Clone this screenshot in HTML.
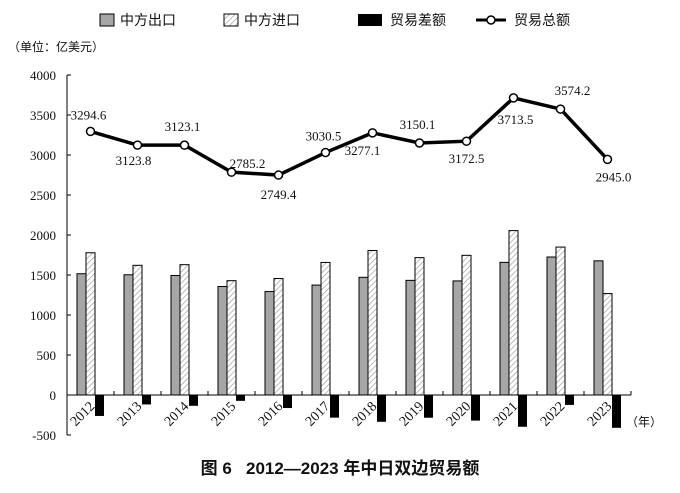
<!DOCTYPE html>
<html><head><meta charset="utf-8"><style>
body{margin:0;background:#fff;width:680px;height:488px;overflow:hidden}
svg text{font-family:"Liberation Serif","Noto Serif CJK SC",serif;fill:#111}
.cn{font-family:"Liberation Sans","Noto Sans CJK SC",sans-serif}
</style></head><body>
<svg id="c" width="680" height="488">
<defs><pattern id="hatch" width="4" height="4" patternUnits="userSpaceOnUse" patternTransform="rotate(45)"><rect width="4" height="4" fill="#fff"/><line x1="0" y1="0" x2="0" y2="4" stroke="#999" stroke-width="1.3"/></pattern></defs>
<g>
<rect x="100" y="14" width="14" height="12" fill="#a6a6a6" stroke="#000"/>
<text class="cn" x="120" y="25" font-size="14">中方出口</text>
<rect x="224" y="14" width="14" height="12" fill="url(#hatch)" stroke="#000"/>
<text class="cn" x="244" y="25" font-size="14">中方进口</text>
<rect x="358" y="14" width="24" height="12" fill="#000"/>
<text class="cn" x="390" y="25" font-size="14">贸易差额</text>
<line x1="476" y1="20" x2="506" y2="20" stroke="#000" stroke-width="3"/>
<circle cx="491" cy="20" r="4" fill="#fff" stroke="#000" stroke-width="1.5"/>
<text class="cn" x="514" y="25" font-size="14">贸易总额</text>
</g>
<text class="cn" x="8" y="51" font-size="12">（单位：亿美元）</text>
<text class="cn" x="340" y="474" font-size="17" font-weight="bold" text-anchor="middle" style="white-space:pre">图 6   2012—2023 年中日双边贸易额</text>
<text class="cn" x="626" y="426" font-size="12">（年）</text>
</svg>
<script>
const years=["2012","2013","2014","2015","2016","2017","2018","2019","2020","2021","2022","2023"];
const exports_=[1516,1503,1494,1356,1293,1374,1471,1433,1426,1658,1725,1677];
const imports_=[1778,1621,1629,1429,1456,1657,1806,1717,1746,2055,1849,1268];
const balance=[-262,-118,-135,-73,-163,-283,-335,-284,-320,-397,-124,-410];
const total=[3294.6,3123.8,3123.1,2785.2,2749.4,3030.5,3277.1,3150.1,3172.5,3713.5,3574.2,2945.0];
const yTicks=[-500,0,500,1000,1500,2000,2500,3000,3500,4000];
const labelDx=[-2,-4,-2,16,0,-2,-10,-2,0,2,12,6];
const labelDy=[-12,20,-14,-4,24,-12,22,-14,22,26,-14,22];
const svg=document.getElementById('c');const NS='http://www.w3.org/2000/svg';
const X0=67,X1=631,bw=(X1-X0)/years.length;
const y=v=>395-v*0.08;
const cx=i=>X0+bw*(i+0.5);
function mk(t,a,p){const e=document.createElementNS(NS,t);for(const k in a)e.setAttribute(k,a[k]);(p||svg).appendChild(e);return e;}
yTicks.forEach(v=>{
 const t=mk('text',{x:56,y:y(v)+5,'font-size':13,'text-anchor':'end'});t.textContent=v;
 
 
 const l=mk('line',{x1:X0,x2:X0+4,y1:y(v),y2:y(v),stroke:'#000'});
 
 
});
years.forEach((yr,i)=>{
 const c=cx(i);
 const g=mk('rect',{x:c-13.5,y:y(exports_[i]),width:9,height:y(0)-y(exports_[i]),fill:'#a6a6a6',stroke:'#000','stroke-width':1});
 
 
 const h=mk('rect',{x:c-4.5,y:y(imports_[i]),width:9,height:y(0)-y(imports_[i]),fill:'url(#hatch)',stroke:'#000','stroke-width':1});
 
 
 const b=mk('rect',{x:c+4.5,y:y(0),width:9,height:y(balance[i])-y(0),fill:'#000'});
 
 
 const t=mk('text',{x:0,y:0,'font-size':14,'text-anchor':'end',transform:`translate(${c+5},${y(0)+12}) rotate(-45)`});t.textContent=yr;
 
 
 const tk=mk('line',{x1:X0+bw*(i+1),x2:X0+bw*(i+1),y1:y(0),y2:y(0)-4,stroke:'#000'});
 
 
});
const ax=mk('line',{x1:X0,x2:X0,y1:y(4000),y2:y(-500),stroke:'#000'});


const xa=mk('line',{x1:X0,x2:X1,y1:y(0),y2:y(0),stroke:'#000'});


const pl=mk('polyline',{points:total.map((v,i)=>cx(i)+','+y(v)).join(' '),fill:'none',stroke:'#000','stroke-width':3.5});


total.forEach((v,i)=>{
 const p=mk('circle',{cx:cx(i),cy:y(v),r:4,fill:'#fff',stroke:'#000','stroke-width':1.5});
 
 
 const t=mk('text',{x:cx(i)+labelDx[i],y:y(v)+labelDy[i],'font-size':13,'text-anchor':'middle'});t.textContent=v.toFixed(1);
 
 
});
</script>
</body></html>
